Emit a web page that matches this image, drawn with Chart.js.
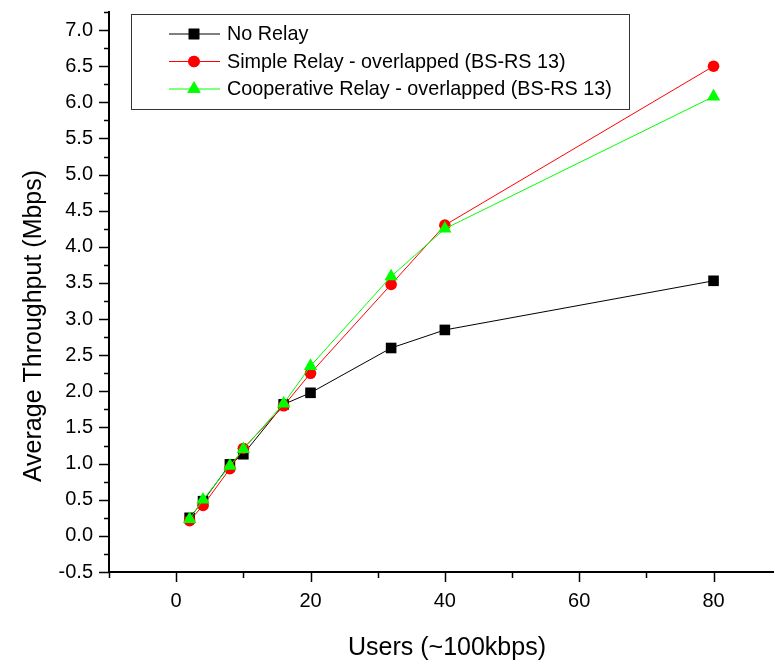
<!DOCTYPE html>
<html>
<head>
<meta charset="utf-8">
<script src="https://cdn.jsdelivr.net/npm/chart.js@4"></script>
<style>
  html, body { margin: 0; padding: 0; background: #fff; }
  #wrap { width: 774px; height: 663px; position: relative; }
</style>
</head>
<body>
<div id="wrap"><canvas id="chart" width="774" height="663"></canvas></div>
<script>
// throughput vs. users - relay comparison
const users = [2, 4, 8, 10, 16, 20, 32, 40, 80];
const noRelay = [0.25, 0.48, 0.99, 1.13, 1.82, 1.98, 2.6, 2.85, 3.53];
const simpleRelay = [0.21, 0.42, 0.93, 1.21, 1.80, 2.25, 3.48, 4.30, 6.50];
const coopRelay = [0.23, 0.50, 0.97, 1.20, 1.83, 2.35, 3.59, 4.25, 6.08];

const seriesNames = [
  'No Relay',
  'Simple Relay - overlapped (BS-RS 13)',
  'Cooperative Relay - overlapped (BS-RS 13)',
];

const xTicks = [0, 20, 40, 60, 80];
const xMinorTicks = [-10, 10, 30, 50, 70];
const yTicks = [-0.5, 0.0, 0.5, 1.0, 1.5, 2.0, 2.5, 3.0, 3.5, 4.0, 4.5, 5.0, 5.5, 6.0, 6.5, 7.0];
const yMinorTicks = [-0.25, 0.25, 0.75, 1.25, 1.75, 2.25, 2.75, 3.25, 3.75, 4.25, 4.75, 5.25, 5.75, 6.25, 6.75, 7.25];

const xTitle = 'Users (~100kbps)';
const yTitle = 'Average Throughput (Mbps)';

const FONT = '"Liberation Sans", Arial, sans-serif';

function toPoints(ys) {
  return users.map((x, i) => ({ x, y: ys[i] }));
}

// ticks marks pointing outwards + axis titles + boxed legend
const decorPlugin = {
  id: 'decor',
  afterDraw(chart) {
    const { ctx, chartArea, scales } = chart;
    ctx.save();
    ctx.strokeStyle = '#000';
    ctx.lineWidth = 1.5;

    const tickY = (v, len) => {
      const y = Math.round(scales.y.getPixelForValue(v)) + 0.5;
      ctx.beginPath();
      ctx.moveTo(chartArea.left, y);
      ctx.lineTo(chartArea.left - len, y);
      ctx.stroke();
    };
    const tickX = (v, len) => {
      const x = Math.round(scales.x.getPixelForValue(v)) + 0.5;
      ctx.beginPath();
      ctx.moveTo(x, chartArea.bottom);
      ctx.lineTo(x, chartArea.bottom + len);
      ctx.stroke();
    };
    yTicks.forEach((v) => tickY(v, 10));
    yMinorTicks.forEach((v) => tickY(v, 5));
    xTicks.forEach((v) => tickX(v, 10));
    xMinorTicks.forEach((v) => tickX(v, 6));

    // axis titles
    ctx.fillStyle = '#000';
    ctx.font = '25px ' + FONT;
    ctx.textAlign = 'center';
    ctx.textBaseline = 'middle';
    ctx.fillText(xTitle, 447, 648);
    ctx.save();
    ctx.translate(34, 326);
    ctx.rotate(-Math.PI / 2);
    ctx.fillText(yTitle, 0, 0);
    ctx.restore();

    // legend
    ctx.lineWidth = 1;
    ctx.strokeStyle = '#333';
    ctx.strokeRect(131.5, 14.5, 498, 95);
    const rows = [34, 61.5, 89];
    ctx.font = '19.8px ' + FONT;
    ctx.textAlign = 'left';
    chart.data.datasets.forEach((ds, i) => {
      const y = rows[i];
      ctx.strokeStyle = ds.borderColor;
      ctx.lineWidth = 1;
      ctx.beginPath();
      ctx.moveTo(169, y);
      ctx.lineTo(220, y);
      ctx.stroke();
      ctx.fillStyle = ds.pointBackgroundColor;
      ctx.beginPath();
      Chart.helpers.drawPoint(ctx, {
        pointStyle: ds.pointStyle,
        radius: ds.pointRadius,
        borderWidth: 0,
      }, 194, y);
      ctx.fill();
      ctx.fillStyle = '#000';
      ctx.fillText(ds.label, 227, y + 1);
    });
    ctx.restore();
  },
};

const mkDataset = (label, ys, color, style, radius, order) => ({
  label,
  data: toPoints(ys),
  borderColor: color,
  backgroundColor: color,
  pointBackgroundColor: color,
  pointBorderColor: color,
  pointBorderWidth: 0,
  pointStyle: style,
  pointRadius: radius,
  pointHoverRadius: radius,
  borderWidth: 1,
  order,
});

new Chart(document.getElementById('chart'), {
  type: 'line',
  data: {
    datasets: [
      mkDataset(seriesNames[0], noRelay, '#000000', 'rect', 7.5, 2),
      mkDataset(seriesNames[1], simpleRelay, '#ff0000', 'circle', 5.8, 1),
      mkDataset(seriesNames[2], coopRelay, '#00ff00', 'triangle', 7.7, 0),
    ],
  },
  options: {
    responsive: false,
    animation: false,
    devicePixelRatio: 1,
    layout: { autoPadding: false, padding: { top: 12, right: 0, left: 0, bottom: 0 } },
    plugins: { legend: { display: false }, tooltip: { enabled: false } },
    scales: {
      x: {
        type: 'linear',
        min: -10,
        max: 89,
        grid: { display: false, drawTicks: false },
        border: { display: true, color: '#000', width: 2 },
        afterBuildTicks: (scale) => { scale.ticks = xTicks.map((v) => ({ value: v })); },
        afterFit: (scale) => {
          scale.height = 91;
          scale.paddingLeft = 0;
          scale.paddingRight = 0;
        },
        ticks: {
          padding: 17,
          color: '#000',
          font: { family: FONT, size: 20 },
          maxRotation: 0,
          callback: (v) => String(v),
        },
      },
      y: {
        type: 'linear',
        min: -0.5,
        max: 7.25,
        grid: { display: false, drawTicks: false },
        border: { display: true, color: '#000', width: 2 },
        afterBuildTicks: (scale) => { scale.ticks = yTicks.map((v) => ({ value: v })); },
        afterFit: (scale) => {
          scale.width = 109;
          scale.paddingTop = 0;
          scale.paddingBottom = 0;
        },
        ticks: {
          padding: 16,
          color: '#000',
          font: { family: FONT, size: 20 },
          callback: (v) => Number(v).toFixed(1),
        },
      },
    },
  },
  plugins: [decorPlugin],
});
</script>
</body>
</html>
